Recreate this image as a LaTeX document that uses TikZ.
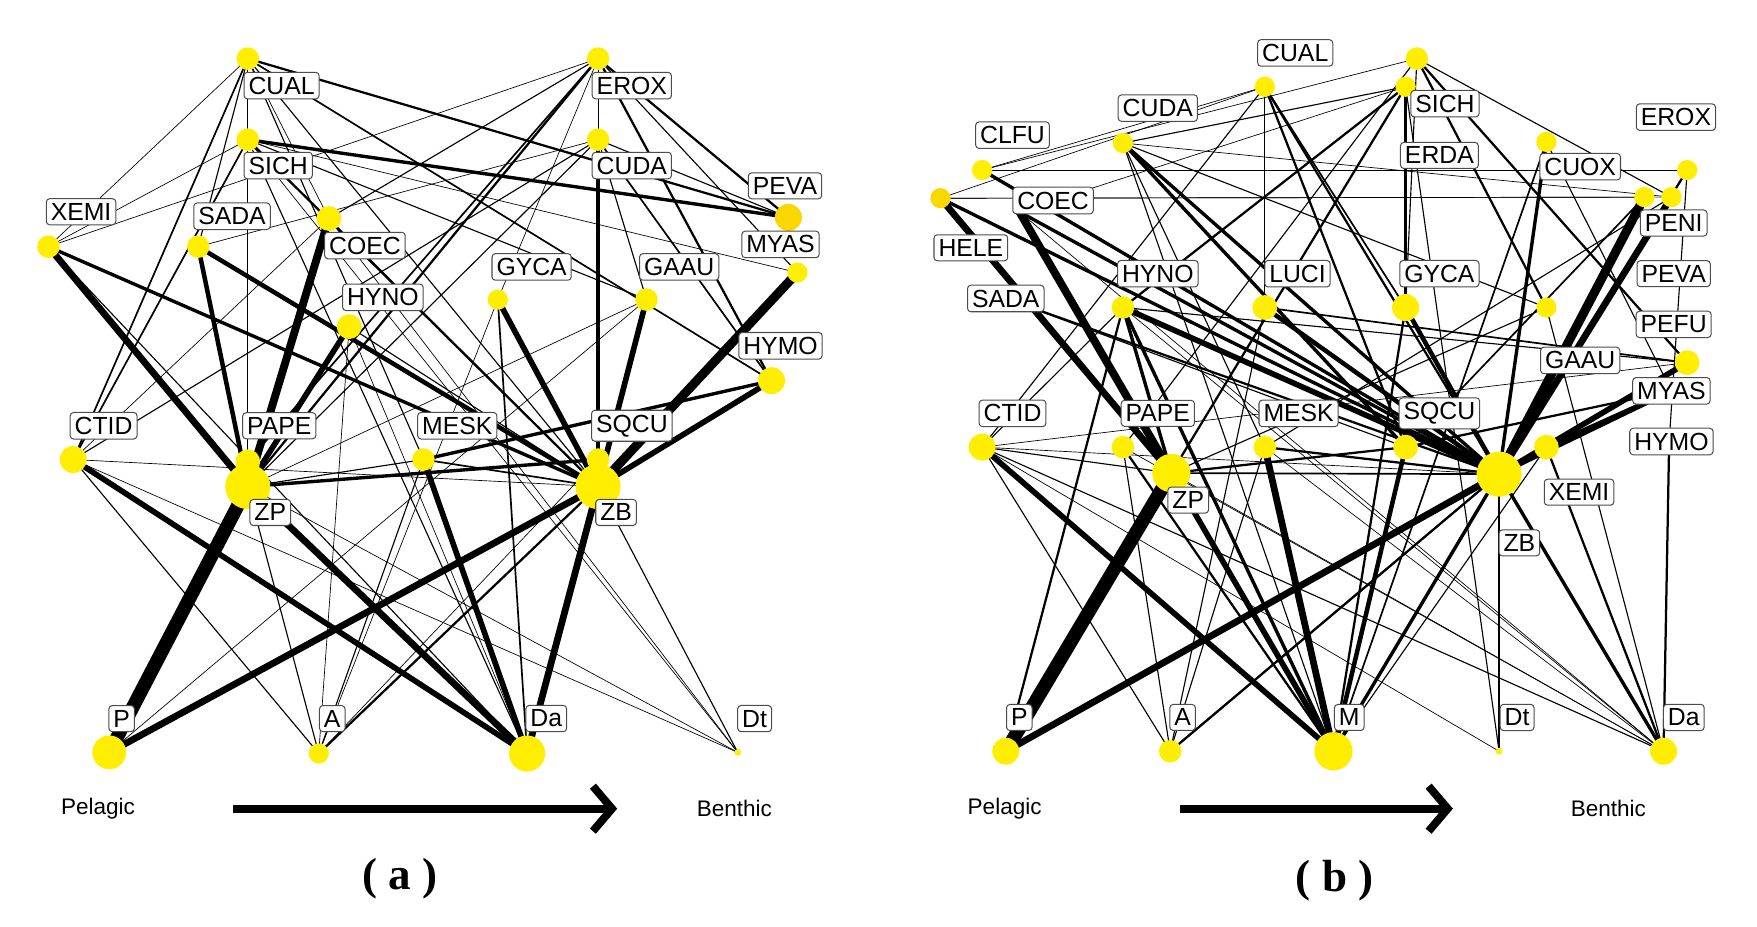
\documentclass[tikz,border=0pt]{standalone}
\usepackage{fontspec}
\setmainfont{Liberation Sans}
\newfontfamily\tnr{Liberation Serif}
\usetikzlibrary{arrows.meta}
\definecolor{dotyellow}{RGB}{255,238,0}
\definecolor{dotorange}{RGB}{250,215,0}
\tikzset{
  lab/.style={draw=black!70, line width=0.9pt, fill=white, rounded corners=3pt, inner xsep=4pt, inner ysep=4pt, font=\fontsize{22}{24}\selectfont},
  edge/.style={line width=#1pt, line cap=round},
}
\begin{document}
\begin{tikzpicture}[x=1pt,y=-1pt]
\useasboundingbox (0,0) rectangle (1560,823);
% ---------- panel (a) coordinates ----------
\foreach \n/\x/\y in {
 aCUAL/220/52, aEROX/531/52, aSICH/220/124, aCUDA/531/124, aPEVA/700/193,
 aXEMI/43/219, aSADA/176/219, aCOEC/292/194, aMYAS/708/242, aGYCA/442/266,
 aGAAU/574/266, aHYNO/310/290, aHYMO/685/338, aCTID/65/408, aPAPE/220/410,
 aZP/220/432, aMESK/376/408, aSQCU/531/408, aZB/531/432,
 aP/97/668, aA/283/669, aDa/468/669, aDt/655/668}
 {\coordinate (\n) at (\x,\y);}
% ---------- panel (b) coordinates ----------
\foreach \n/\x/\y in {
 bCUAL/1123/77, bERDA/1258/52, bSICH/1248/77, bCUDA/997/127, bCLFU/872/151,
 bHELE/835/176, bCOEC/905/188, bSADA/893/265, bCUOX/1373/126,
 bEROX/1498/151, bPENI/1460/175, bPEVA/1484/175, bPEFU/1498/322,
 bMYAS/1484/347, bHYMO/1482/392,
 bHYNO/997/273, bLUCI/1123/273, bGYCA/1248/273, bGAAU/1373/273,
 bCTID/872/397, bPAPE/997/397, bZP/1040/420, bMESK/1123/397, bSQCU/1248/397,
 bZB/1331/421, bXEMI/1373/397,
 bP/893/667, bA/1039/667, bM/1184/667, bDt/1331/667, bDa/1477/667}
 {\coordinate (\n) at (\x,\y);}
% ---------- edges (a) ----------
\foreach \s/\t/\w in {
 aP/aZP/12, aP/aZB/6, aXEMI/aZP/6, aXEMI/aZB/3, aXEMI/aCUAL/0.6, aXEMI/aEROX/0.6,
 aXEMI/aSICH/0.6, aXEMI/aDa/1, aSADA/aZP/4, aSADA/aZB/4, aSADA/aCUAL/1, aSADA/aCUDA/0.6,
 aCTID/aDa/5, aCTID/aZB/0.6, aCTID/aDt/0.6, aCTID/aA/1, aCTID/aCUAL/1.5, aCTID/aSICH/1.5,
 aCTID/aCUDA/1, aCTID/aCOEC/0.6, aZP/aDa/6, aZP/aCOEC/7, aZP/aHYNO/5, aZP/aSQCU/3,
 aZP/aMESK/1, aZP/aA/1, aZP/aDt/0.6, aZP/aEROX/2, aZP/aCUDA/1, aZP/aGAAU/0.6,
 aMESK/aDa/5, aMESK/aZB/1.5, aMESK/aHYMO/3, aMESK/aA/1, aMESK/aCUAL/1,
 aGYCA/aZB/5, aGYCA/aDa/1.5, aGYCA/aEROX/0.6, aGYCA/aA/0.6, aDa/aZB/6, aDa/aSICH/1,
 aZB/aMYAS/8, aZB/aGAAU/5, aZB/aHYMO/5, aZB/aA/2, aZB/aDt/1, aZB/aSICH/2, aZB/aCUAL/1,
 aZB/aHYNO/1, aZB/aCOEC/1, aCUDA/aSQCU/4, aCUDA/aGAAU/1, aCUDA/aHYMO/1.5,
 aCUAL/aPEVA/2, aSICH/aPEVA/3, aEROX/aPEVA/2, aCUDA/aPEVA/1, aCUAL/aHYMO/1.5,
 aEROX/aMYAS/1, aEROX/aHYMO/2, aEROX/aCOEC/1, aEROX/aPAPE/1.5, aCUAL/aPAPE/1,
 aSICH/aGAAU/1, aSICH/aMYAS/0.6, aDt/aSICH/0.6, aDt/aCOEC/0.6, aEROX/aCUDA/0.6,
 aCUAL/aCOEC/0.6, aA/aHYNO/0.6, aP/aGAAU/0.6, aA/aSQCU/0.6, aDa/aHYNO/0.6}
 {\draw[edge=\w] (\s) -- (\t);}
% ---------- edges (b) ----------
\foreach \s/\t/\w in {
 bP/bZP/12, bP/bZB/6, bP/bHYNO/2, bA/bZB/2, bA/bMESK/1, bA/bPAPE/1, bA/bLUCI/1, bA/bCTID/1,
 bM/bZP/5, bM/bCTID/5, bM/bMESK/6, bM/bSQCU/4, bM/bZB/3, bM/bHYNO/3, bM/bPAPE/2, bM/bGYCA/2,
 bM/bXEMI/1, bDt/bZB/2, bDt/bSICH/1, bDt/bCTID/0.6, bDa/bZB/3, bDa/bCTID/1, bDa/bHYMO/2,
 bDa/bGAAU/1, bDa/bXEMI/2, bDa/bZP/0.6, bDa/bPAPE/0.6, bDa/bMESK/0.6, bDa/bHYNO/0.6,
 bZB/bPENI/8, bZB/bPEVA/6, bZB/bPEFU/5, bZB/bMYAS/4, bZB/bCUOX/3, bZB/bGYCA/4, bZB/bHYNO/5,
 bZB/bLUCI/4, bZB/bCUDA/3, bZB/bCOEC/3, bZB/bHELE/3, bZB/bSADA/2, bZB/bMESK/2, bZB/bCUAL/2,
 bZB/bEROX/2, bZB/bCTID/0.6, bZB/bZP/1.5, bZB/bA/1.5,
 bZP/bCOEC/7, bZP/bHELE/6, bZP/bCTID/1, bZP/bSQCU/2, bZP/bHYNO/3, bZP/bSICH/2, bZP/bGAAU/1,
 bCUAL/bCLFU/0.6, bCUAL/bHELE/0.6, bCUAL/bLUCI/0.6, bCUAL/bGYCA/1.5, bCUAL/bSQCU/2,
 bCUAL/bCTID/1, bSICH/bCUDA/1, bSICH/bCOEC/0.6, bSICH/bHYNO/2, bSICH/bGYCA/3,
 bERDA/bGAAU/2, bERDA/bPEFU/2, bERDA/bCLFU/0.6, bERDA/bPAPE/1, bERDA/bPEVA/1,
 bCUDA/bSQCU/3, bCUDA/bMESK/1, bCUDA/bGAAU/1, bCUDA/bPEVA/0.6,
 bCLFU/bZB/3, bCLFU/bEROX/0.6, bHELE/bPEVA/0.6, bHELE/bPENI/0.6,
 bCTID/bHYNO/1, bCTID/bPEFU/0.6, bSADA/bSQCU/1, bHYNO/bPEFU/1, bLUCI/bPEFU/1.5,
 bCUOX/bMYAS/1, bCUOX/bM/1.5, bMESK/bPEVA/1, bSQCU/bPENI/1.5, bSQCU/bMYAS/2,
 bHYMO/bEROX/1, bXEMI/bMYAS/4, bGYCA/bERDA/1, bCUDA/bM/1, bCOEC/bDa/0.6}
 {\draw[edge=\w] (\s) -- (\t);}
% ---------- dots ----------
\foreach \n/\r in {aCUAL/10, aEROX/10, aSICH/10, aCUDA/10, aXEMI/10, aSADA/10, aCOEC/11,
 aMYAS/9, aGYCA/9, aGAAU/10, aHYNO/11, aHYMO/12, aCTID/12, aPAPE/11, aZP/20, aMESK/10,
 aSQCU/10, aZB/20, aP/15, aA/9, aDa/16, aDt/3,
 bCUAL/9, bERDA/10, bSICH/9, bCUDA/9, bCLFU/9, bCUOX/9, bEROX/9, bPENI/9, bPEVA/9, bPEFU/11,
 bHYNO/10, bLUCI/11, bGYCA/12, bGAAU/9, bCTID/12, bPAPE/10, bZP/17, bMESK/10, bSQCU/11,
 bZB/20, bXEMI/11, bP/12, bA/10, bM/17, bDt/3, bDa/12}
 {\fill[dotyellow] (\n) circle (\r pt);}
\fill[dotorange] (aPEVA) circle (12pt);
\fill[dotorange] (bHELE) circle (9pt);
% ---------- labels ----------
\foreach \n/\x/\y/\t in {
 laCUAL/250/76/CUAL, laEROX/561/76/EROX, laSICH/247/147/SICH, laCUDA/561/147/CUDA,
 laPEVA/697/165/PEVA, laXEMI/72/188/XEMI, laSADA/206/192/SADA, laCOEC/324/218/COEC,
 laMYAS/693/217/MYAS, laGYCA/472/237/GYCA, laGAAU/603/237/GAAU, laHYNO/340/264/HYNO,
 laHYMO/693/307/HYMO, laCTID/92/378/CTID, laPAPE/248/378/PAPE, laMESK/406/378/MESK,
 laSQCU/561/378/SQCU, laZP/240/455/ZP, laZB/547/455/ZB,
 laP/108/638/P, laA/295/638/A, laDa/485/638/Da, laDt/670/638/Dt,
 lbCUAL/1150/47/CUAL, lbSICH/1283/92/SICH, lbERDA/1278/138/ERDA, lbCUDA/1028/96/CUDA,
 lbCLFU/899/120/CLFU, lbCOEC/935/178/COEC, lbHELE/862/220/HELE, lbSADA/893/265/SADA,
 lbCUOX/1403/148/CUOX, lbEROX/1488/104/EROX, lbPENI/1486/198/PENI, lbPEVA/1486/243/PEVA,
 lbPEFU/1486/288/PEFU, lbMYAS/1484/347/MYAS, lbHYMO/1484/392/HYMO,
 lbHYNO/1028/243/HYNO, lbLUCI/1152/243/LUCI, lbGYCA/1278/243/GYCA, lbGAAU/1403/320/GAAU,
 lbCTID/899/367/CTID, lbPAPE/1028/367/PAPE, lbMESK/1153/367/MESK, lbSQCU/1278/367/SQCU,
 lbZP/1055/444/ZP, lbXEMI/1402/437/XEMI, lbZB/1349/482/ZB,
 lbP/905/637/P, lbA/1050/637/A, lbM/1198/637/M, lbDt/1347/637/Dt, lbDa/1495/637/Da}
 {\node[lab] (\n) at (\x,\y) {\t};}
% ---------- axis ----------
\node[font=\fontsize{20}{22}\selectfont] (pa) at (87,718) {Pelagic};
\node[font=\fontsize{20}{22}\selectfont] (ba) at (652,718) {Benthic};
\coordinate (as) at (207,718); \coordinate (ae) at (548,718);
\draw[line width=7pt, -{Straight Barb[length=17pt, width=40pt, line width=7pt]}] (as) -- (ae);
\node[font=\tnr\bfseries\fontsize{40}{44}\selectfont] (ta) at (355,780) {( a )};
\node[font=\fontsize{20}{22}\selectfont] (pb) at (892,718) {Pelagic};
\node[font=\fontsize{20}{22}\selectfont] (bb) at (1428,718) {Benthic};
\coordinate (bs) at (1048,718); \coordinate (be) at (1290,718);
\draw[line width=7pt, -{Straight Barb[length=17pt, width=40pt, line width=7pt]}] (bs) -- (be);
\node[font=\tnr\bfseries\fontsize{40}{44}\selectfont] (tb) at (1185,782) {( b )};
\end{tikzpicture}
\end{document}
